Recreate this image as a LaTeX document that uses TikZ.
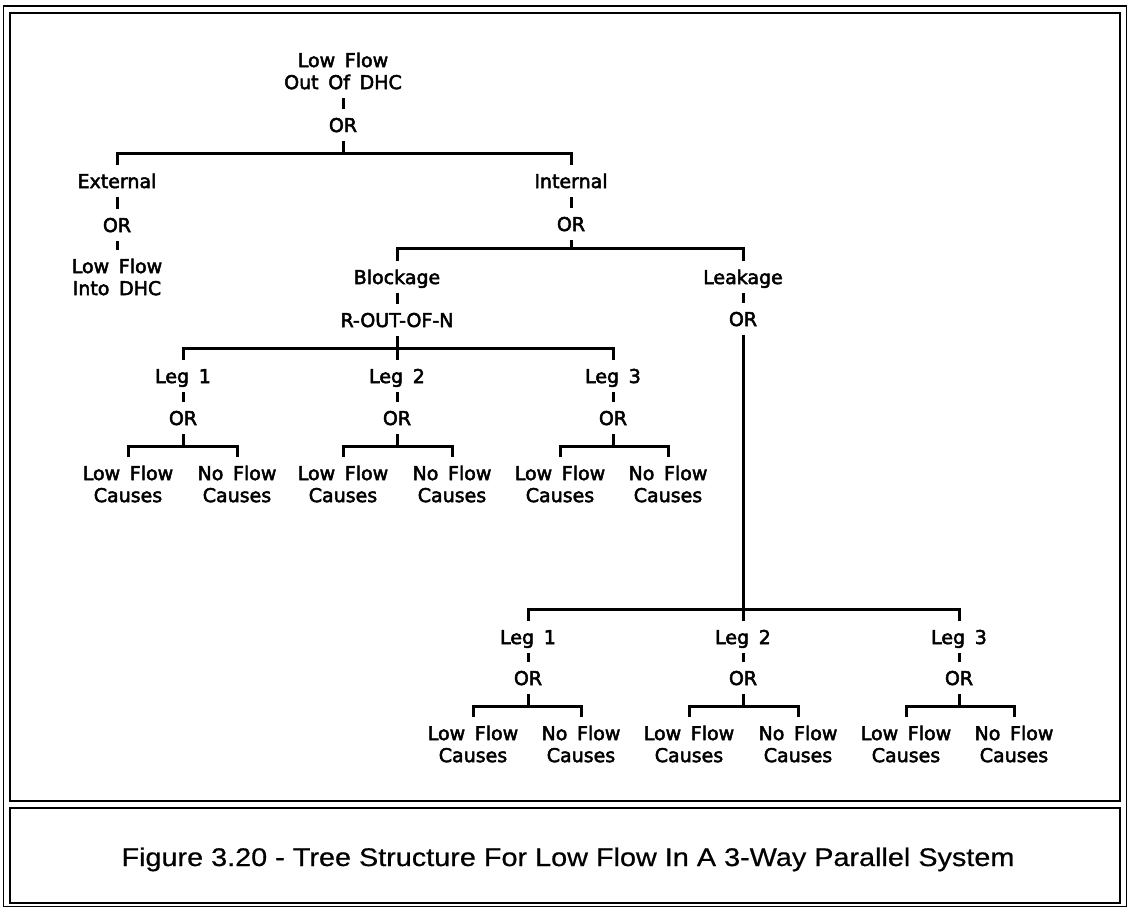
\documentclass[tikz,border=0pt]{standalone}
\usepackage{fontspec}
\newfontfamily\cadfont[FakeBold=2.6,WordSpace=1.6]{DejaVu Sans}
\newfontfamily\capfont[FakeStretch=1.13,FakeBold=0.6]{Liberation Sans}

\begin{document}
\begin{tikzpicture}[
  x=1pt, y=-1pt,
  ev/.style={font=\cadfont\fontsize{19}{22}\selectfont, align=center, inner sep=0pt, outer sep=9pt},
  gate/.style={ev, text height=14pt, text depth=0pt},
  link/.style={line width=3pt},
  frame/.style={line width=2.8pt}
]
  \useasboundingbox (0,0) rectangle (1130,910);
  \draw[line width=1.8pt] (3.5,6) rectangle (1126.5,906.5);
  \draw[frame] (10,13) rectangle (1120,801);
  \draw[frame] (10,808) rectangle (1120,903);

  \node[ev] (top) at (343,71) {Low Flow\\Out Of DHC};
  \node[gate] (orT) at (343,125) {OR};
  \coordinate (jT) at (343,153);

  \node[gate] (ext) at (117,181) {External};
  \node[gate] (orE) at (117,225) {OR};
  \node[ev] (into) at (117,277) {Low Flow\\Into DHC};

  \node[gate] (int) at (571,181) {Internal};
  \node[gate] (orI) at (571,224) {OR};
  \coordinate (jI) at (571,248);

  \node[gate] (blk) at (397,277) {Blockage};
  \node[gate] (rout) at (397,320) {R-OUT-OF-N};
  \coordinate (jB) at (397,348);

  \node[gate] (bleg1) at (183,376) {Leg 1};
  \node[gate] (bor1) at (183,418) {OR};
  \coordinate (bj1) at (183,446);
  \node[ev] (blow1) at (128,484) {Low Flow\\Causes};
  \node[ev] (bno1) at (237,484) {No Flow\\Causes};

  \node[gate] (bleg2) at (397,376) {Leg 2};
  \node[gate] (bor2) at (397,418) {OR};
  \coordinate (bj2) at (397,446);
  \node[ev] (blow2) at (343,484) {Low Flow\\Causes};
  \node[ev] (bno2) at (452,484) {No Flow\\Causes};

  \node[gate] (bleg3) at (613,376) {Leg 3};
  \node[gate] (bor3) at (613,418) {OR};
  \coordinate (bj3) at (613,446);
  \node[ev] (blow3) at (560,484) {Low Flow\\Causes};
  \node[ev] (bno3) at (668,484) {No Flow\\Causes};

  \node[gate] (lek) at (743,277) {Leakage};
  \node[gate] (orK) at (743,319) {OR};
  \coordinate (jK) at (743,609);

  \node[gate] (kleg1) at (528,637) {Leg 1};
  \node[gate] (kor1) at (528,678) {OR};
  \coordinate (kj1) at (528,706);
  \node[ev] (klow1) at (473,744) {Low Flow\\Causes};
  \node[ev] (kno1) at (581,744) {No Flow\\Causes};

  \node[gate] (kleg2) at (743,637) {Leg 2};
  \node[gate] (kor2) at (743,678) {OR};
  \coordinate (kj2) at (743,706);
  \node[ev] (klow2) at (689,744) {Low Flow\\Causes};
  \node[ev] (kno2) at (798,744) {No Flow\\Causes};

  \node[gate] (kleg3) at (959,637) {Leg 3};
  \node[gate] (kor3) at (959,678) {OR};
  \coordinate (kj3) at (959,706);
  \node[ev] (klow3) at (906,744) {Low Flow\\Causes};
  \node[ev] (kno3) at (1014,744) {No Flow\\Causes};

  \node[font=\capfont\fontsize{25.5}{30}\selectfont, anchor=base] (cap) at (568,866) {Figure 3.20 - Tree Structure For Low Flow In A 3-Way Parallel System};

  \draw[link] (top) -- (orT);
  \draw[link] (orT) -- (jT);
  \draw[link] (jT) -| (ext);
  \draw[link] (jT) -| (int);
  \draw[link] (ext) -- (orE);
  \draw[link] (orE) -- (into);
  \draw[link] (int) -- (orI);
  \draw[link] (orI) -- (jI);
  \draw[link] (jI) -| (blk);
  \draw[link] (jI) -| (lek);

  \draw[link] (blk) -- (rout);
  \draw[link] (rout) -- (jB);
  \draw[link] (jB) -| (bleg1);
  \draw[link] (jB) -- (bleg2);
  \draw[link] (jB) -| (bleg3);
  \draw[link] (bleg1) -- (bor1);
  \draw[link] (bor1) -- (bj1);
  \draw[link] (bj1) -| (blow1);
  \draw[link] (bj1) -| (bno1);
  \draw[link] (bleg2) -- (bor2);
  \draw[link] (bor2) -- (bj2);
  \draw[link] (bj2) -| (blow2);
  \draw[link] (bj2) -| (bno2);
  \draw[link] (bleg3) -- (bor3);
  \draw[link] (bor3) -- (bj3);
  \draw[link] (bj3) -| (blow3);
  \draw[link] (bj3) -| (bno3);

  \draw[link] (lek) -- (orK);
  \draw[link] (orK) -- (jK);
  \draw[link] (jK) -| (kleg1);
  \draw[link] (jK) -- (kleg2);
  \draw[link] (jK) -| (kleg3);
  \draw[link] (kleg1) -- (kor1);
  \draw[link] (kor1) -- (kj1);
  \draw[link] (kj1) -| (klow1);
  \draw[link] (kj1) -| (kno1);
  \draw[link] (kleg2) -- (kor2);
  \draw[link] (kor2) -- (kj2);
  \draw[link] (kj2) -| (klow2);
  \draw[link] (kj2) -| (kno2);
  \draw[link] (kleg3) -- (kor3);
  \draw[link] (kor3) -- (kj3);
  \draw[link] (kj3) -| (klow3);
  \draw[link] (kj3) -| (kno3);
\end{tikzpicture}
\end{document}
